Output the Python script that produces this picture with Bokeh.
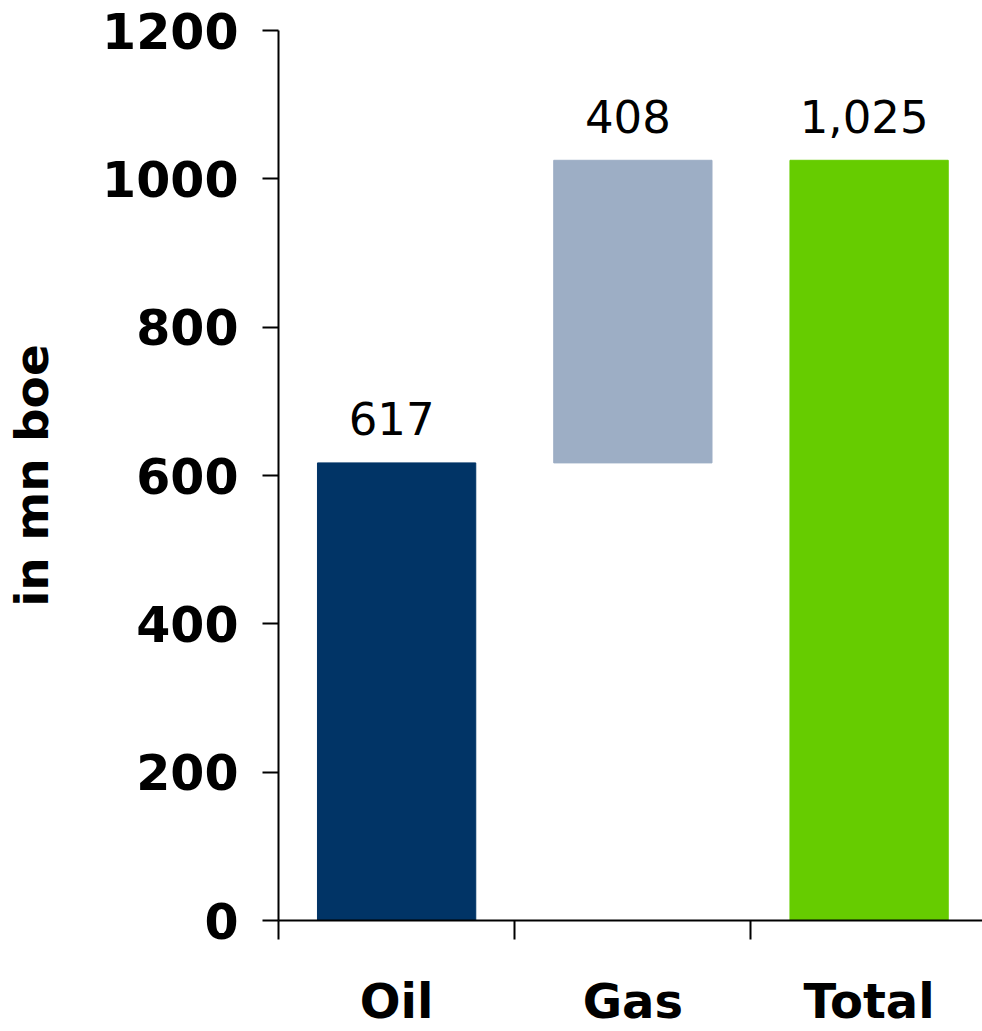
from bokeh.plotting import figure
from bokeh.models import Range1d, FixedTicker, ColumnDataSource
from bokeh.core.properties import value
from bokeh.embed import file_html
from bokeh.resources import INLINE

categories = ["Oil", "Gas", "Total"]
amounts = [617, 408, 1025]
bases = [0, 617, 0]
value_labels = ["617", "408", "1,025"]
bar_colors = ["#013466", "#9daec5", "#66cc00"]
y_ticks = [0, 200, 400, 600, 800, 1000, 1200]

FONT = "DejaVu Sans"

xs = [i + 0.5 for i in range(len(categories))]
tops = [b + a for b, a in zip(bases, amounts)]
src = ColumnDataSource(dict(x=xs, bottom=bases, top=tops, color=bar_colors, label=value_labels))

p = figure(width=982, height=1031, x_range=Range1d(0, 2.98), y_range=Range1d(0, 1200),
           output_backend="svg", toolbar_location=None,
           min_border_left=278, min_border_right=0, min_border_top=30, min_border_bottom=108)

p.vbar(x="x", bottom="bottom", top="top", width=0.67, color="color", source=src)
p.text(x="x", y="top", text="label", source=src, text_align="center", text_baseline="alphabetic",
       y_offset=-44, x_offset=-5, text_font=value(FONT), text_font_size="45px", text_color="#000000")

p.outline_line_color = None
p.xgrid.visible = False
p.ygrid.visible = False
p.background_fill_color = "white"
p.border_fill_color = "white"

# Y axis
ya = p.yaxis[0]
ya.ticker = FixedTicker(ticks=y_ticks)
ya.axis_label = "in mn boe"
ya.axis_label_text_font = FONT
ya.axis_label_text_font_size = "47px"
ya.axis_label_text_font_style = "bold"
ya.axis_label_text_color = "#000000"
ya.axis_label_standoff = 40
ya.major_label_text_font = FONT
ya.major_label_text_font_size = "49px"
ya.major_label_text_font_style = "bold"
ya.major_label_text_color = "#000000"
ya.major_label_standoff = 24
ya.major_tick_out = 16
ya.major_tick_in = 0
ya.minor_tick_out = 0
ya.minor_tick_in = 0
ya.axis_line_width = 2
ya.major_tick_line_width = 2
ya.axis_line_color = "#000000"
ya.major_tick_line_color = "#000000"

# X axis
xa = p.xaxis[0]
xa.ticker = FixedTicker(ticks=xs, minor_ticks=list(range(len(categories) + 1)))
xa.major_label_overrides = {x: c for x, c in zip(xs, categories)}
xa.major_label_text_font = FONT
xa.major_label_text_font_size = "48px"
xa.major_label_text_font_style = "bold"
xa.major_label_text_color = "#000000"
xa.major_label_text_line_height = 1.0
xa.major_label_standoff = 33
xa.major_tick_out = 0
xa.major_tick_in = 0
xa.minor_tick_out = 19
xa.minor_tick_in = 0
xa.minor_tick_line_width = 2
xa.minor_tick_line_color = "#000000"
xa.axis_line_width = 2
xa.axis_line_color = "#000000"

open("out.html", "w").write(file_html(p, INLINE))
